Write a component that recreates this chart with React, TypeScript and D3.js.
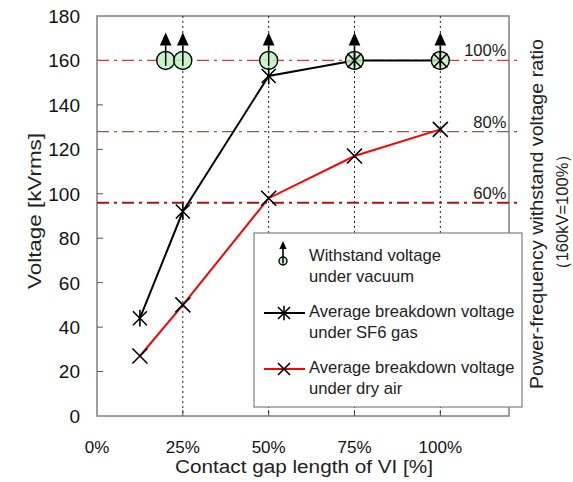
import React, { useRef, useEffect } from 'react';
import * as d3 from 'd3';

// contact gap length [%] and voltages [kVrms]
const gapSF6 = [12.5, 25, 50, 75, 100];
const sf6Values = [44, 92, 153, 160, 160];
const gapAir = [12.5, 25, 50, 75, 100];
const airValues = [27, 50, 98, 117, 129];
const gapVacuum = [20, 25, 50, 75, 100];
const vacuumValues = [160, 160, 160, 160, 160];

const xTicks = [0, 25, 50, 75, 100];
const yTicks = [0, 20, 40, 60, 80, 100, 120, 140, 160, 180];
const gridGaps = [25, 50, 75, 100];
const ratioLevels = [100, 80, 60];
const ratioBase = 160; // 160kV = 100%

const App = () => {
  const ref = useRef<SVGSVGElement>(null);

  useEffect(() => {
    const width = 573;
    const height = 482;
    const m = { left: 97, right: 64, top: 16, bottom: 66 };
    const font = '"Liberation Sans", Arial, sans-serif';

    const svg = d3.select(ref.current);
    svg.selectAll('*').remove();
    svg.attr('width', width).attr('height', height);

    const x = d3.scaleLinear().domain([0, 120]).range([m.left, width - m.right]);
    const y = d3.scaleLinear().domain([0, 180]).range([height - m.bottom, m.top]);

    // frame
    svg.append('rect')
      .attr('x', x(0)).attr('y', y(180))
      .attr('width', x(120) - x(0)).attr('height', y(0) - y(180))
      .attr('fill', 'none').attr('stroke', '#7f7f7f').attr('stroke-width', 1.5);

    // inward ticks
    svg.append('g').selectAll('line').data(yTicks.slice(1, -1)).join('line')
      .attr('x1', x(0)).attr('x2', x(0) + 6)
      .attr('y1', d => y(d)).attr('y2', d => y(d))
      .attr('stroke', '#555').attr('stroke-width', 1);
    svg.append('g').selectAll('line').data(xTicks.slice(1)).join('line')
      .attr('x1', d => x(d)).attr('x2', d => x(d))
      .attr('y1', y(0)).attr('y2', y(0) - 6)
      .attr('stroke', '#555').attr('stroke-width', 1);

    // tick labels
    svg.append('g').selectAll('text').data(yTicks).join('text')
      .attr('x', x(0) - 17).attr('y', d => y(d))
      .attr('dy', '0.36em').attr('text-anchor', 'end')
      .attr('font-family', font).attr('font-size', 19).attr('fill', '#111')
      .text(d => d);
    svg.append('g').selectAll('text').data(xTicks).join('text')
      .attr('x', d => x(d)).attr('y', y(0) + 37)
      .attr('text-anchor', 'middle')
      .attr('font-family', font).attr('font-size', 17).attr('fill', '#111')
      .text(d => d + '%');

    // vertical dotted grid
    svg.append('g').selectAll('line').data(gridGaps).join('line')
      .attr('x1', d => x(d)).attr('x2', d => x(d))
      .attr('y1', y(180)).attr('y2', y(0))
      .attr('stroke', '#222').attr('stroke-width', 1).attr('stroke-dasharray', '2,3');

    // withstand ratio lines
    const rl = svg.append('g');
    ratioLevels.forEach(r => {
      const v = (ratioBase * r) / 100;
      rl.append('line')
        .attr('x1', x(0)).attr('x2', x(120) + 11)
        .attr('y1', y(v)).attr('y2', y(v))
        .attr('stroke', r === 60 ? '#a01818' : '#b84a4a')
        .attr('stroke-width', r === 60 ? 2 : 1.2)
        .attr('stroke-dasharray', '12,5,3,5');
      rl.append('text')
        .attr('x', x(100) + 66).attr('y', y(v) - 4)
        .attr('text-anchor', 'end')
        .attr('font-family', font).attr('font-size', 16.5).attr('fill', '#1a1a1a')
        .text(r + '%');
    });

    // series lines
    const line = d3.line<[number, number]>().x(d => x(d[0])).y(d => y(d[1]));
    const sf6 = gapSF6.map((g, i) => [g, sf6Values[i]] as [number, number]);
    const air = gapAir.map((g, i) => [g, airValues[i]] as [number, number]);

    svg.append('path').attr('d', line(air)).attr('fill', 'none')
      .attr('stroke', '#ff0000').attr('stroke-width', 2);
    svg.append('path').attr('d', line(sf6)).attr('fill', 'none')
      .attr('stroke', '#000').attr('stroke-width', 2);

    const cross = (g: any, cx: number, cy: number, s: number) => {
      g.append('path')
        .attr('d', `M${cx - s},${cy - s}L${cx + s},${cy + s}M${cx - s},${cy + s}L${cx + s},${cy - s}`)
        .attr('stroke', '#000').attr('stroke-width', 1.6).attr('fill', 'none');
    };
    const star = (g: any, cx: number, cy: number, s: number) => {
      cross(g, cx, cy, s);
      g.append('path').attr('d', `M${cx},${cy - s * 1.2}L${cx},${cy + s * 1.2}`)
        .attr('stroke', '#000').attr('stroke-width', 1.6);
    };
    const vacuum = (g: any, cx: number, cy: number, r: number, arrowLen: number, head: number) => {
      g.append('line').attr('x1', cx).attr('x2', cx).attr('y1', cy + r * 0.6).attr('y2', cy - arrowLen + head)
        .attr('stroke', '#000').attr('stroke-width', 1.6);
      g.append('path')
        .attr('d', `M${cx},${cy - arrowLen}L${cx - head * 0.45},${cy - arrowLen + head}L${cx + head * 0.45},${cy - arrowLen + head}Z`)
        .attr('fill', '#000');
      g.append('circle').attr('cx', cx).attr('cy', cy).attr('r', r)
        .attr('fill', 'rgba(190,240,190,0.85)').attr('stroke', '#000').attr('stroke-width', 1.4);
      g.append('line').attr('x1', cx).attr('x2', cx).attr('y1', cy - r).attr('y2', cy + r * 0.6)
        .attr('stroke', '#000').attr('stroke-width', 1.4);
    };

    const mk = svg.append('g');
    air.forEach(d => cross(mk, x(d[0]), y(d[1]), 7.5));
    gapVacuum.forEach((g, i) => vacuum(mk, x(g), y(vacuumValues[i]), 9, 28, 13));
    sf6.forEach(d => star(mk, x(d[0]), y(d[1]), 7));

    // legend
    const lg = svg.append('g');
    lg.append('rect').attr('x', 254).attr('y', 233).attr('width', 268).attr('height', 174)
      .attr('fill', '#fff').attr('stroke', '#7f7f7f').attr('stroke-width', 1.2);
    vacuum(lg, 283, 261, 4, 20, 8);
    lg.append('line').attr('x1', 264).attr('x2', 305).attr('y1', 313).attr('y2', 313)
      .attr('stroke', '#000').attr('stroke-width', 2);
    star(lg, 284, 313, 6);
    lg.append('line').attr('x1', 264).attr('x2', 305).attr('y1', 369).attr('y2', 369)
      .attr('stroke', '#ff0000').attr('stroke-width', 2);
    cross(lg, 284, 369, 6);
    const legendLines = [
      ['Withstand voltage', 'under vacuum'],
      ['Average breakdown voltage', 'under SF6 gas'],
      ['Average breakdown voltage', 'under dry air'],
    ];
    legendLines.forEach((ls, i) => {
      ls.forEach((t, j) => {
        lg.append('text').attr('x', 309).attr('y', 261 + i * 56 + j * 21)
          .attr('font-family', font).attr('font-size', 16.6).attr('fill', '#222')
          .text(t);
      });
    });

    // axis titles
    svg.append('text')
      .attr('transform', `translate(41,211) rotate(-90)`)
      .attr('text-anchor', 'middle')
      .attr('font-family', font).attr('font-size', 18).attr('fill', '#222')
      .attr('textLength', 156).attr('lengthAdjust', 'spacingAndGlyphs')
      .text('Voltage [kVrms]');
    svg.append('text')
      .attr('x', 304).attr('y', 473)
      .attr('text-anchor', 'middle')
      .attr('font-family', font).attr('font-size', 18).attr('fill', '#222')
      .attr('textLength', 258).attr('lengthAdjust', 'spacingAndGlyphs')
      .text('Contact gap length of VI [%]');
    svg.append('text')
      .attr('transform', `translate(543,214) rotate(-90)`)
      .attr('text-anchor', 'middle')
      .attr('font-family', font).attr('font-size', 18).attr('fill', '#222')
      .attr('textLength', 350).attr('lengthAdjust', 'spacingAndGlyphs')
      .text('Power-frequency withstand voltage ratio');
    svg.append('text')
      .attr('transform', `translate(568,212) rotate(-90)`)
      .attr('text-anchor', 'middle')
      .attr('font-family', font).attr('font-size', 16.5).attr('fill', '#222')
      .text('（160kV=100%）');
  }, []);

  return <svg ref={ref} style={{ position: 'absolute', left: 0, top: 0 }}></svg>;
};

export default App;
